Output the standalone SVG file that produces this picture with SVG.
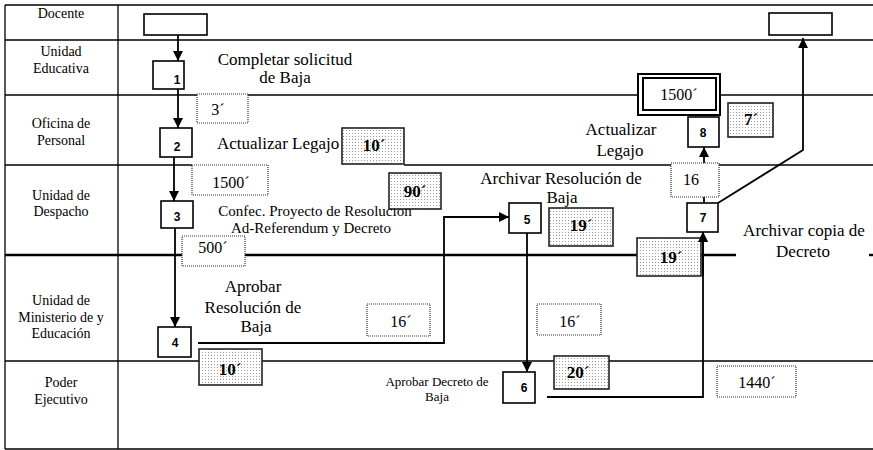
<svg xmlns="http://www.w3.org/2000/svg" width="873" height="450" viewBox="0 0 873 450">
  <defs>
    <pattern id="dots" width="3" height="3" patternUnits="userSpaceOnUse">
      <rect width="3" height="3" fill="#ffffff"/>
      <rect x="1" y="1" width="1" height="1" fill="#9a9a9a"/>
    </pattern>
    <marker id="arrow" viewBox="0 0 10 10" refX="10" refY="5" markerWidth="10" markerHeight="10" markerUnits="userSpaceOnUse" orient="auto">
      <path d="M0,0 L10,5 L0,10 z" fill="#000"/>
    </marker>
  </defs>
  <style>
    .grid { stroke: #000; stroke-width: 1.3; fill: none; }
    .thick { stroke: #000; stroke-width: 2.4; fill: none; }
    .lane { font-family: "Liberation Serif", "Times New Roman", serif; font-size: 14px; text-anchor: middle; fill: #000; }
    .label { font-family: "Liberation Serif", "Times New Roman", serif; font-size: 17px; fill: #000; }
    .small { font-family: "Liberation Serif", "Times New Roman", serif; font-size: 15px; fill: #000; }
    .tiny { font-family: "Liberation Serif", "Times New Roman", serif; font-size: 13px; fill: #000; }
    .step { fill: #fff; stroke: #000; stroke-width: 1.6; }
    .num { font-family: "Liberation Sans", Arial, sans-serif; font-size: 12px; font-weight: bold; text-anchor: middle; fill: #000; }
    .open { fill: #fff; stroke: #333; stroke-width: 1.2; stroke-dasharray: 1 1; }
    .shade { fill: url(#dots); stroke: #222; stroke-width: 1.6; }
    .t { font-family: "Liberation Serif", "Times New Roman", serif; font-size: 16px; text-anchor: middle; fill: #000; }
    .tb { font-family: "Liberation Serif", "Times New Roman", serif; font-size: 17px; font-weight: bold; text-anchor: middle; fill: #000; }
    .conn { stroke: #000; stroke-width: 1.8; fill: none; }
  </style>

  <rect width="873" height="450" fill="#fff"/>

  <!-- swimlane grid -->
  <g id="grid">
    <line class="grid" x1="5" y1="5" x2="873" y2="5"/>
    <line class="grid" x1="5" y1="40" x2="873" y2="40"/>
    <line class="grid" x1="5" y1="95" x2="873" y2="95"/>
    <line class="grid" x1="5" y1="165" x2="192" y2="165"/>
    <line class="grid" x1="404" y1="165" x2="873" y2="165"/>
    <line class="thick" x1="5" y1="255" x2="736" y2="255"/>
    <line class="thick" x1="869" y1="255" x2="873" y2="255"/>
    <line class="grid" x1="5" y1="361" x2="873" y2="361"/>
    <line class="grid" x1="5" y1="449" x2="873" y2="449"/>
    <line class="grid" x1="5" y1="5" x2="5" y2="449"/>
    <line class="grid" x1="118" y1="5" x2="118" y2="449"/>
  </g>

  <!-- lane titles -->
  <g id="lanes">
    <text class="lane" x="61" y="18">Docente</text>
    <text class="lane" x="61" y="56">Unidad</text>
    <text class="lane" x="61" y="73">Educativa</text>
    <text class="lane" x="61" y="128">Oficina de</text>
    <text class="lane" x="61" y="145">Personal</text>
    <text class="lane" x="61" y="200">Unidad de</text>
    <text class="lane" x="61" y="216">Despacho</text>
    <text class="lane" x="61" y="305">Unidad de</text>
    <text class="lane" x="61" y="322">Ministerio de y</text>
    <text class="lane" x="61" y="338">Educación</text>
    <text class="lane" x="61" y="387">Poder</text>
    <text class="lane" x="61" y="404">Ejecutivo</text>
  </g>

  <!-- connectors -->
  <g id="connectors">
    <line class="conn" x1="178" y1="35" x2="178" y2="61" marker-end="url(#arrow)"/>
    <line class="conn" x1="178" y1="89" x2="178" y2="128" marker-end="url(#arrow)"/>
    <line class="conn" x1="174" y1="157" x2="174" y2="201" marker-end="url(#arrow)"/>
    <line class="conn" x1="175" y1="228" x2="175" y2="327" marker-end="url(#arrow)"/>
    <polyline class="conn" points="198,343 444,343 444,217 509,217" marker-end="url(#arrow)"/>
    <line class="conn" x1="527" y1="233" x2="527" y2="372" marker-end="url(#arrow)"/>
    <polyline class="conn" points="547,397 703,397 703,232" marker-end="url(#arrow)"/>
    <line class="conn" x1="704" y1="203" x2="704" y2="147" marker-end="url(#arrow)"/>
    <polyline class="conn" points="718,203 803,150 803,38" marker-end="url(#arrow)"/>
  </g>

  <!-- start and end markers -->
  <g id="docente-start"><rect class="step" x="144" y="14" width="63" height="21"/></g>
  <g id="docente-end"><rect class="step" x="769" y="13" width="63" height="22"/></g>

  <!-- process steps -->
  <g id="step1">
    <rect class="step" x="153" y="61" width="31" height="28"/>
    <text class="num" x="177" y="84">1</text>
    <text class="label" x="285" y="65" text-anchor="middle">Completar solicitud</text>
    <text class="label" x="285" y="83" text-anchor="middle">de Baja</text>
  </g>
  <g id="step2">
    <rect class="step" x="160" y="128" width="32" height="29"/>
    <text class="num" x="177" y="151">2</text>
    <text class="label" x="217" y="149">Actualizar Legajo</text>
  </g>
  <g id="step3">
    <rect class="step" x="161" y="201" width="32" height="27"/>
    <text class="num" x="177" y="221">3</text>
    <text class="small" x="315" y="216" text-anchor="middle">Confec. Proyecto de Resolucion</text>
    <text class="small" x="311" y="233" text-anchor="middle">Ad-Referendum y Decreto</text>
  </g>
  <g id="step4">
    <rect class="step" x="158" y="327" width="33" height="30"/>
    <text class="num" x="175" y="347">4</text>
    <text class="label" x="253" y="292" text-anchor="middle">Aprobar</text>
    <text class="label" x="253" y="313" text-anchor="middle">Resolución de</text>
    <text class="label" x="256" y="332" text-anchor="middle">Baja</text>
  </g>
  <g id="step5">
    <rect class="step" x="509" y="203" width="32" height="30"/>
    <text class="num" x="527" y="224">5</text>
    <text class="label" x="561" y="184" text-anchor="middle">Archivar Resolución de</text>
    <text class="label" x="562" y="203" text-anchor="middle">Baja</text>
  </g>
  <g id="step6">
    <rect class="step" x="503" y="372" width="32" height="31"/>
    <text class="num" x="524" y="392">6</text>
    <text class="tiny" x="437" y="386" text-anchor="middle">Aprobar Decreto de</text>
    <text class="tiny" x="437" y="401" text-anchor="middle">Baja</text>
  </g>
  <g id="step7">
    <rect class="step" x="687" y="203" width="31" height="29"/>
    <text class="num" x="703" y="222">7</text>
    <text class="label" x="804" y="236" text-anchor="middle">Archivar copia de</text>
    <text class="label" x="803" y="257" text-anchor="middle">Decreto</text>
  </g>
  <g id="step8">
    <rect class="step" x="688" y="117" width="31" height="30"/>
    <text class="num" x="703" y="137">8</text>
    <text class="label" x="621" y="135" text-anchor="middle">Actualizar</text>
    <text class="label" x="620" y="156" text-anchor="middle">Legajo</text>
  </g>

  <!-- waiting times -->
  <g id="time-3"><rect class="open" x="197" y="94" width="51" height="29"/><text class="t" x="218" y="115">3´</text></g>
  <g id="time-1500a"><rect class="open" x="192" y="165" width="76" height="30"/><text class="t" x="231" y="188">1500´</text></g>
  <g id="time-500"><rect class="open" x="182" y="236" width="63" height="30"/><text class="t" x="213" y="253">500´</text></g>
  <g id="time-16a"><rect class="open" x="367" y="304" width="63" height="32"/><text class="t" x="401" y="327">16´</text></g>
  <g id="time-16b"><rect class="open" x="537" y="304" width="64" height="31"/><text class="t" x="570" y="327">16´</text></g>
  <g id="time-1440"><rect class="open" x="717" y="366" width="79" height="31"/><text class="t" x="757" y="388">1440´</text></g>
  <g id="time-16c"><rect class="open" x="671" y="163" width="48" height="34"/><text class="t" x="691" y="185">16</text></g>
  <g id="time-1500b">
    <rect x="638" y="74" width="82" height="41" fill="#fff" stroke="#000" stroke-width="2"/>
    <rect x="643" y="78" width="73" height="32" fill="#fff" stroke="#000" stroke-width="2"/>
    <text class="t" x="679" y="100">1500´</text>
  </g>

  <!-- processing times -->
  <g id="time-10a"><rect class="shade" x="342" y="128" width="62" height="36"/><text class="tb" x="374" y="151">10´</text></g>
  <g id="time-90"><rect class="shade" x="389" y="173" width="52" height="36"/><text class="tb" x="415" y="197">90´</text></g>
  <g id="time-19a"><rect class="shade" x="549" y="208" width="64" height="38"/><text class="tb" x="581" y="231">19´</text></g>
  <g id="time-19b"><rect class="shade" x="637" y="238" width="64" height="38"/><text class="tb" x="671" y="263">19´</text></g>
  <g id="time-7"><rect class="shade" x="728" y="103" width="45" height="34"/><text class="tb" x="751" y="125">7´</text></g>
  <g id="time-10b"><rect class="shade" x="199" y="349" width="63" height="36"/><text class="tb" x="230" y="375">10´</text></g>
  <g id="time-20"><rect class="shade" x="554" y="356" width="55" height="33"/><text class="tb" x="578" y="378">20´</text></g>

  <!-- arrow into step 7 stays on top of the 19´ box -->
  <line class="conn" x1="703" y1="276" x2="703" y2="232" marker-end="url(#arrow)"/>
</svg>
